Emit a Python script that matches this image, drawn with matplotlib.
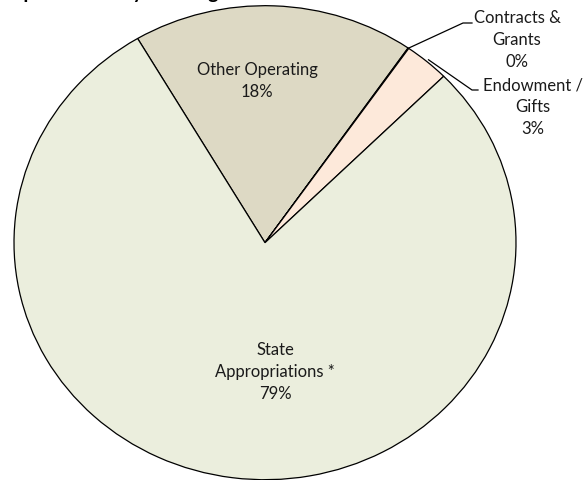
import numpy as np
import matplotlib.pyplot as plt

plt.rcParams['font.family'] = ['Lato', 'DejaVu Sans']

# Revenue sources, in drawing order (clockwise from the top-left edge)
sources = ['Other Operating', 'Contracts &\nGrants', 'Endowment /\nGifts', 'State\nAppropriations *']
shares = [18.1, 0.05, 2.9, 78.8]
colors = ['#DDD9C4', '#E6E0D0', '#FDE9DA', '#EBEEDD']
title = 'Expenditures by Funding Source'

W, H = 583, 480
cx, cy = 265, 242.7   # pie centre, pixels from top-left
rx, ry = 251, 237     # pie radii, pixels


def px(x, y):
    # pixel position -> data coordinates of the pie axes
    return (x - cx) / rx, (cy - y) / ry


fig = plt.figure(figsize=(W / 100, H / 100), dpi=100)
ax = fig.add_axes([0, 0, 1, 1])
wedges, _ = ax.pie(shares, colors=colors, startangle=120.5, counterclock=False,
                   wedgeprops=dict(edgecolor='black', linewidth=0.9))
ax.set_aspect('auto')
ax.set_xlim(-cx / rx, (W - cx) / rx)
ax.set_ylim((cy - H) / ry, cy / ry)
ax.axis('off')

total = sum(shares)
pct = [f'{s / total * 100:.0f}%' for s in shares]
txt = dict(fontsize=12, color='#1a1a1a', ha='center', va='center', linespacing=1.45)

# labels inside the two big slices
ax.text(*px(257, 81), f'{sources[0]}\n{pct[0]}', **txt)
ax.text(*px(275, 372), f'{sources[3]}\n{pct[3]}', **txt)

# outside labels with leader lines
outside = [(1, (463, 23), (472, 23), (517, 40), 1.0),
           (2, (472, 90), (478, 90), (533, 107), 1.01)]
for i, elbow, end, pos, r in outside:
    w = wedges[i]
    mid = np.deg2rad((w.theta1 + w.theta2) / 2)
    start = (r * np.cos(mid), r * np.sin(mid))
    e1, e2 = px(*elbow), px(*end)
    ax.plot([start[0], e1[0], e2[0]], [start[1], e1[1], e2[1]], color='black', lw=0.9)
    ax.text(*px(*pos), f'{sources[i]}\n{pct[i]}', **txt)

# title sits above the top edge, only its descenders show
fig.text(2 / W, 1 + 1 / H, title, fontsize=14, fontweight='bold', va='baseline', ha='left')

fig.savefig('out.png', dpi=100)
